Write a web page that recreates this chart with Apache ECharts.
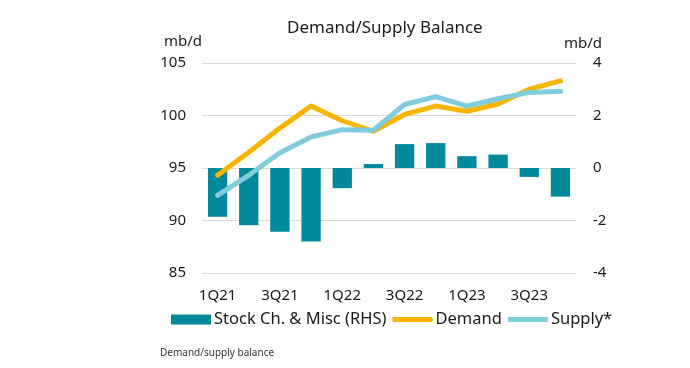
<!DOCTYPE html>
<html><head><meta charset="utf-8">
<script src="https://cdn.jsdelivr.net/npm/echarts@6/dist/echarts.min.js"></script>
<style>html,body{margin:0;padding:0;background:#fff}#c{width:690px;height:368px}</style>
</head><body><div id="c"></div>
<script>
const categories = ['1Q21','2Q21','3Q21','4Q21','1Q22','2Q22','3Q22','4Q22','1Q23','2Q23','3Q23','4Q23'];
const stockChange = [-1.86,-2.18,-2.43,-2.8,-0.77,0.15,0.91,0.95,0.45,0.51,-0.34,-1.09];
const demand = [94.3,96.5,98.8,100.9,99.5,98.5,100.1,100.9,100.4,101.1,102.5,103.3];
const supply = [92.4,94.3,96.45,97.95,98.65,98.6,101.05,101.8,100.9,101.6,102.2,102.3];
const leftTicks = [85,90,95,100,105];
const rightTicks = [-4,-2,0,2,4];

const font = 'Noto Sans';
const lineIcon = 'path://M0,0H40V5H0Z';
const chart = echarts.init(document.getElementById('c'));
chart.setOption({
  animation:false,
  textStyle:{fontFamily:font},
  title:{text:'Demand/Supply Balance',left:282,top:15,
    textStyle:{fontFamily:font,fontSize:17,fontWeight:'normal',color:'#1a1a1a'}},
  graphic:[{type:'text',left:160,top:348,style:{text:'Demand/supply balance',fontFamily:font,fontSize:10,fill:'#333'}}],
  grid:{left:202,right:114,top:63,bottom:95,containLabel:false},
  legend:{bottom:35,left:166,itemWidth:40,itemHeight:10,itemGap:6,
    textStyle:{fontFamily:font,fontSize:16.5,color:'#1a1a1a',padding:[0,0,0,-2]},
    data:[{name:'Stock Ch. & Misc (RHS)',icon:'rect'},{name:'Demand',icon:lineIcon},{name:'Supply*',icon:lineIcon}]},
  xAxis:{type:'category',data:categories,boundaryGap:true,
    axisLine:{show:false},axisTick:{show:false},
    axisLabel:{interval:1,fontFamily:font,fontSize:15,color:'#1a1a1a',margin:15}},
  yAxis:[
    {type:'value',min:leftTicks[0],max:leftTicks[leftTicks.length-1],interval:5,
      name:'mb/d',nameLocation:'end',nameGap:14,nameTextStyle:{fontFamily:font,fontSize:15,color:'#1a1a1a',align:'right',padding:[0,0,0,0]},
      axisLabel:{fontFamily:font,fontSize:15,color:'#1a1a1a',margin:16},
      splitLine:{lineStyle:{color:'#d9d9d9',width:1}},axisLine:{show:false},axisTick:{show:false}},
    {type:'value',min:rightTicks[0],max:rightTicks[rightTicks.length-1],interval:2,position:'right',
      name:'mb/d',nameLocation:'end',nameGap:12,nameTextStyle:{fontFamily:font,fontSize:15,color:'#1a1a1a',align:'left',padding:[0,0,0,-12]},
      axisLabel:{fontFamily:font,fontSize:15,color:'#1a1a1a',margin:17},
      splitLine:{show:false},axisLine:{show:false},axisTick:{show:false}}
  ],
  series:[
    {name:'Stock Ch. & Misc (RHS)',type:'bar',yAxisIndex:1,data:stockChange,barWidth:'62%',
      itemStyle:{color:'#00899A'}},
    {name:'Demand',type:'line',yAxisIndex:0,data:demand,symbol:'none',
      lineStyle:{color:'#F7B500',width:5,cap:'round',join:'round'},itemStyle:{color:'#F7B500'}},
    {name:'Supply*',type:'line',yAxisIndex:0,data:supply,symbol:'none',
      lineStyle:{color:'#7ECCDC',width:5,cap:'round',join:'round'},itemStyle:{color:'#7ECCDC'}}
  ]
});
</script></body></html>
